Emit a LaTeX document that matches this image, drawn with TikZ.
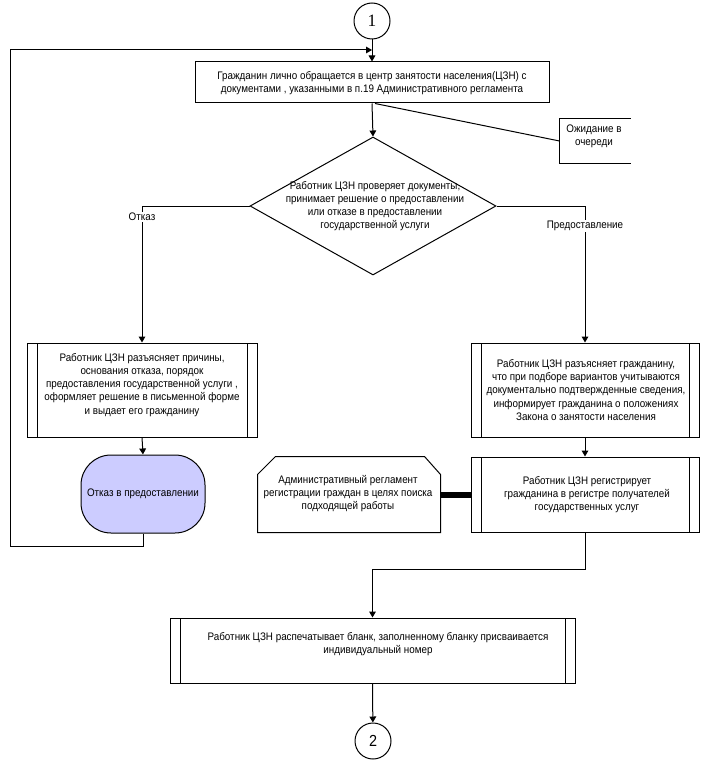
\documentclass[tikz,border=0pt]{standalone}
\usepackage{fontspec}
\setmainfont{Liberation Sans}[FakeStretch=0.9]
\newfontfamily\serifone{Liberation Serif}
\usetikzlibrary{arrows.meta,fit,shapes.geometric}
\definecolor{termfill}{RGB}{204,204,255}
\begin{document}
\begin{tikzpicture}[x=0.75pt,y=-0.75pt,
  line width=0.75pt,
  every node/.style={font=\fontsize{8.2}{9.8}\selectfont, inner sep=0pt},
  arr/.style={-{Triangle[length=4.5pt,width=5pt]}},
  plainbox/.style={draw, inner sep=0pt},
  predef/.style={draw, inner sep=0pt, path picture={
    \draw ([xshift=7.5pt]path picture bounding box.north west) -- ([xshift=7.5pt]path picture bounding box.south west);
    \draw ([xshift=-7.5pt]path picture bounding box.north east) -- ([xshift=-7.5pt]path picture bounding box.south east);}},
  txt/.style={align=center},
  lbl/.style={fill=white, inner sep=1pt},
  conn/.style={circle, draw, minimum size=27pt}]
\useasboundingbox (0,0) rectangle (701,763);

% connectors (circles)
\node[conn] (c1) at (372,21) {\serifone\fontsize{13}{13}\selectfont 1};
\node[conn] (c2) at (373,741) {\fontsize{12}{12}\selectfont 2};

% top box
\node[plainbox, fit={(195,62) (549,103)}] (start) {};
\node[txt] at (372,83) {Гражданин лично обращается в центр занятости населения(ЦЗН) с\\документами , указанными в п.19 Административного регламента};

% annotation
\node[fit={(560,119) (630,163)}] (ann) {};
\draw (ann.north east) -- (ann.north west) -- (ann.south west) -- (ann.south east);
\node[txt] at (594,136) {Ожидание в\\очереди};

% decision
\node[diamond, draw, minimum width=184.5pt, minimum height=103.5pt, inner sep=0pt] (dec) at (373,206) {};
\node[txt] at (375,206) {Работник ЦЗН проверяет документы,\\принимает решение о предоставлении\\или отказе в предоставлении\\государственной услуги};

% left predefined box
\node[predef, fit={(27,343) (257,437)}] (refuse) {};
\node[txt] at (142,385) {Работник ЦЗН разъясняет причины,\\основания отказа, порядок\\предоставления государственной услуги ,\\оформляет решение в письменной форме\\и выдает его гражданину};

% right predefined box 1
\node[predef, fit={(471,343) (699,437)}] (explain) {};
\node[txt] at (586,390) {Работник ЦЗН разъясняет гражданину,\\что при подборе вариантов учитываются\\документально подтвержденные сведения,\\информирует гражданина о положениях\\Закона о занятости населения};

% terminal
\node[draw, fill=termfill, rounded corners=22.5pt, fit={(81,455) (205,533)}, inner sep=0pt] (term) {};
\node[txt] at (143,494) {Отказ в предоставлении};

% document shape
\node[fit={(258,457) (440,532)}] (doc) {};
\draw ([yshift=-13.5pt]doc.north west) -- ([xshift=13.5pt]doc.north west) -- ([xshift=-12pt]doc.north east) -- ([yshift=-13.5pt]doc.north east) -- (doc.south east) -- (doc.south west) -- cycle;
\node[txt] at (348,494) {Административный регламент\\регистрации граждан в целях поиска\\подходящей работы};

% right predefined box 2
\node[predef, fit={(471,457) (699,532)}] (reg) {};
\node[txt] at (587,494.5) {Работник ЦЗН регистрирует\\гражданина в регистре получателей\\государственных услуг};

% bottom predefined box
\node[predef, fit={(170,618) (575,683)}] (print) {};
\node[txt] at (378,644.5) {Работник ЦЗН распечатывает бланк, заполненному бланку присваивается\\индивидуальный номер};

% connections
\coordinate (join) at (372,50);
\draw[arr] (c1) -- (start.north);
\draw[arr] (start.south) -- (dec.north);
\draw ([xshift=2.25pt]start.south) -- (ann.west);
\draw[arr] (dec.west) -| (refuse.north);
\draw[arr] (dec.east) -| (explain.north);
\node[lbl] at (142,217) {Отказ};
\node[lbl] at (585,226) {Предоставление};
\draw[arr] (refuse.south) -- (term.north);
\draw[arr] (term.south) -- ++(0,13) -| (10,50) -- (join);
\draw[arr] (explain.south) -- (reg.north);
\draw[line width=4.5pt] (doc.east) -- (reg.west);
\draw[arr] (reg.south) -- ++(0,37) -| (print.north);
\draw[arr] (print.south) -- (c2);
\end{tikzpicture}
\end{document}
